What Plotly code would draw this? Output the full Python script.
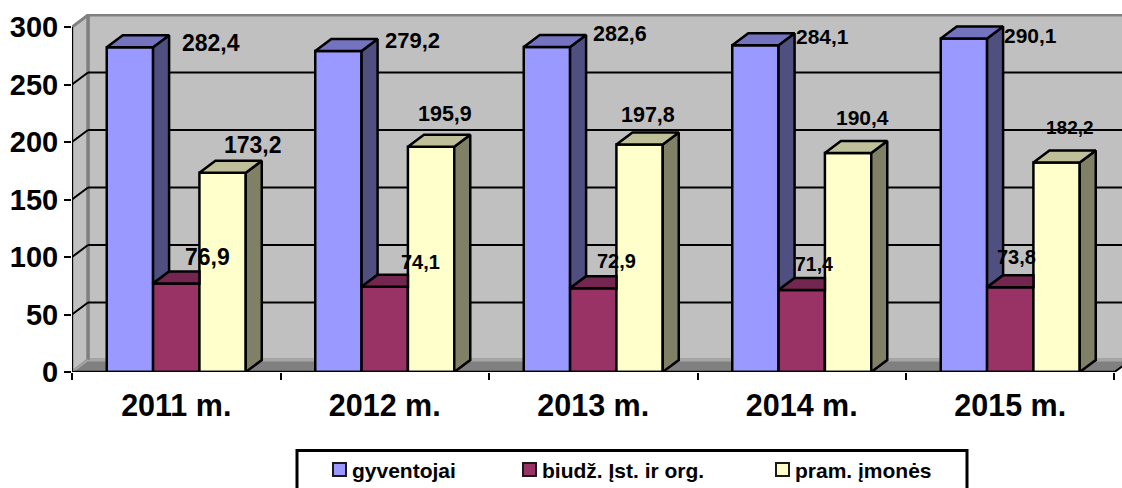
import plotly.graph_objects as go

years = ["2011 m.", "2012 m.", "2013 m.", "2014 m.", "2015 m."]
gyventojai = [282.4, 279.2, 282.6, 284.1, 290.1]
biudz = [76.9, 74.1, 72.9, 71.4, 73.8]
pram = [173.2, 195.9, 197.8, 190.4, 182.2]
labels_g = ["282,4", "279,2", "282,6", "284,1", "290,1"]
labels_b = ["76,9", "74,1", "72,9", "71,4", "73,8"]
labels_p = ["173,2", "195,9", "197,8", "190,4", "182,2"]
y_ticks = [0, 50, 100, 150, 200, 250, 300]

# label nudges in px from the top of each bar, (xshift, yshift, font size)
nudge_g = [(81, 4, 23), (74, 10, 22), (73, 13, 21.5), (67, 9, 21), (67, 3, 21)]
nudge_b = [(31, 27, 23), (36, 25, 20), (23, 27, 20), (12, 26, 19.5), (6, 30, 20)]
nudge_p = [(30, 28, 23), (14, 33, 21.5), (8, 30, 21.5), (14, 36, 21), (13, 35, 19)]

# size of the fake 3d box, in axis units
DX = 0.0768
DY = 10.43
BAR_W = 2 / 9
XMAX = 5.036
YMAX = 311.3
FONT = "Liberation Sans"

# plot area in page pixels
LEFT = 72
BOTTOM = 372
TOP = 14
PW = 1122 - LEFT
PH = BOTTOM - TOP

names = ["gyventojai", "biudž. Įst. ir org.", "pram. įmonės"]
fronts = ["#9999FF", "#993366", "#FFFFCC"]
sides = ["#4F4F80", "#4D1A33", "#808066"]
tops = ["#7373BF", "#732650", "#BFBF99"]
series = [gyventojai, biudz, pram]
label_sets = [labels_g, labels_b, labels_p]
nudges = [nudge_g, nudge_b, nudge_p]
centers = [i + 0.5 for i in range(len(years))]

# legend swatch left edge and text start, page pixels
legend_swatch_x = [332, 522, 775]
legend_text_x = [352, 542, 795]


def path(points):
    return "M" + " L".join(f"{x},{y}" for x, y in points) + " Z"


def wall(points, fill, line="#808080", width=2):
    return dict(type="path", path=path(points), xref="x", yref="y", layer="below",
                fillcolor=fill, line=dict(color=line, width=width))


def seg(x0, y0, x1, y1, color="black", width=2):
    return dict(type="line", x0=x0, y0=y0, x1=x1, y1=y1, xref="x", yref="y",
                layer="below", line=dict(color=color, width=width))


def face(points, fill):
    xs = [p[0] for p in points] + [points[0][0]]
    ys = [p[1] for p in points] + [points[0][1]]
    return go.Scatter(x=xs, y=ys, mode="lines", fill="toself", fillcolor=fill,
                      line=dict(color="black", width=2.5), showlegend=False,
                      hoverinfo="skip", cliponaxis=False)


def paper_x(px):
    return (px - LEFT) / PW


def paper_y(px):
    return (BOTTOM - px) / PH


fig = go.Figure()

# front faces
for s in range(3):
    fig.add_trace(go.Bar(x=centers, y=series[s], name=names[s], showlegend=False,
                         marker=dict(color=fronts[s], line=dict(color="black", width=2.5))))

# side and top faces, cut where the next bar in the group hides them
for i, c in enumerate(centers):
    for s in range(3):
        v = series[s][i]
        x0 = c + (s - 1.5) * BAR_W
        x1 = x0 + BAR_W
        hidden = series[s + 1][i] if s < 2 else 0
        if s == 2 or hidden < v:
            fig.add_trace(face([(x1, hidden), (x1, v), (x1 + DX, v + DY), (x1 + DX, hidden + DY)], sides[s]))
        back_x = x1 if (s < 2 and series[s + 1][i] >= v) else x1 + DX
        fig.add_trace(face([(x0, v), (x1, v), (back_x, v + DY), (x0 + DX, v + DY)], tops[s]))

# front edges of the box
fig.add_trace(go.Scatter(x=[0, 5], y=[0, 0], mode="lines", line=dict(color="black", width=2.5),
                         showlegend=False, hoverinfo="skip", cliponaxis=False))
fig.add_trace(go.Scatter(x=[0, 0], y=[0, 300], mode="lines", line=dict(color="black", width=2),
                         showlegend=False, hoverinfo="skip", cliponaxis=False))

shapes = [
    wall([(DX, DY), (6, DY), (6, 300 + DY), (DX, 300 + DY)], "#C0C0C0", width=3),
    wall([(0, 0), (DX, DY), (DX, 300 + DY), (0, 300)], "#C0C0C0", width=3),
    wall([(0, 0), (5, 0), (5 + DX, DY), (DX, DY)], "#808080", width=0),
    seg(DX, DY, 6, DY, "#A6A6A6", 3),
    seg(DX, DY, DX, 300 + DY, "#808080", 3),
    seg(0, 0, DX, DY, "#A6A6A6", 2),
    seg(5, 0, 5 + DX, DY, "black", 2),
]
for t in y_ticks[1:-1]:
    shapes.append(seg(0, t, DX, t + DY))
    shapes.append(seg(DX, t + DY, 6, t + DY))

# legend frame and swatches
shapes.append(dict(type="rect", xref="paper", yref="paper", layer="below",
                   x0=paper_x(297), x1=paper_x(967), y0=paper_y(492), y1=paper_y(450.5),
                   line=dict(color="black", width=3), fillcolor="white"))
for s in range(3):
    shapes.append(dict(type="rect", xref="paper", yref="paper", layer="above",
                       x0=paper_x(legend_swatch_x[s] + 1), x1=paper_x(legend_swatch_x[s] + 14),
                       y0=paper_y(476), y1=paper_y(463),
                       line=dict(color="#1A1A1A", width=2), fillcolor=fronts[s]))

annotations = []
for s in range(3):
    for i, c in enumerate(centers):
        xs, ys, size = nudges[s][i]
        annotations.append(dict(x=c + (s - 1) * BAR_W, y=series[s][i], text=label_sets[s][i],
                                showarrow=False, xshift=xs, yshift=ys, xanchor="center", yanchor="middle",
                                font=dict(family=FONT, size=size, color="black", weight="bold")))
    annotations.append(dict(x=paper_x(legend_text_x[s]), y=paper_y(470), xref="paper", yref="paper",
                            text=names[s], showarrow=False, xanchor="left", yanchor="middle",
                            borderpad=0, xshift=-1,
                            font=dict(family=FONT, size=21, color="black", weight="bold")))

fig.update_layout(
    width=1122, height=488,
    margin=dict(l=LEFT, r=0, t=TOP, b=488 - BOTTOM, autoexpand=False),
    paper_bgcolor="white", plot_bgcolor="white",
    barmode="group", bargap=1 / 3, bargroupgap=0,
    font=dict(family=FONT, color="black"),
    shapes=shapes, annotations=annotations, showlegend=False,
)
fig.update_xaxes(range=[0, XMAX], tickmode="array", tickvals=centers, ticktext=years, ticks="",
                 showgrid=False, zeroline=False, showline=False, ticklabelstandoff=12,
                 tickfont=dict(family=FONT, size=30.5, color="black", weight="bold"),
                 minor=dict(tickmode="array", tickvals=list(range(6)), ticks="outside", ticklen=7,
                            tickwidth=2, tickcolor="black", showgrid=False))
fig.update_yaxes(range=[0, YMAX], tickmode="array", tickvals=y_ticks, ticks="outside", ticklen=7,
                 tickwidth=2, tickcolor="black", showgrid=False, zeroline=False, showline=False,
                 tickfont=dict(family=FONT, size=29, color="black", weight="bold"))

# the page has a default 8px body margin
fig.write_html("out.html", config={"displayModeBar": False},
               post_script="document.body.style.margin='0'")
